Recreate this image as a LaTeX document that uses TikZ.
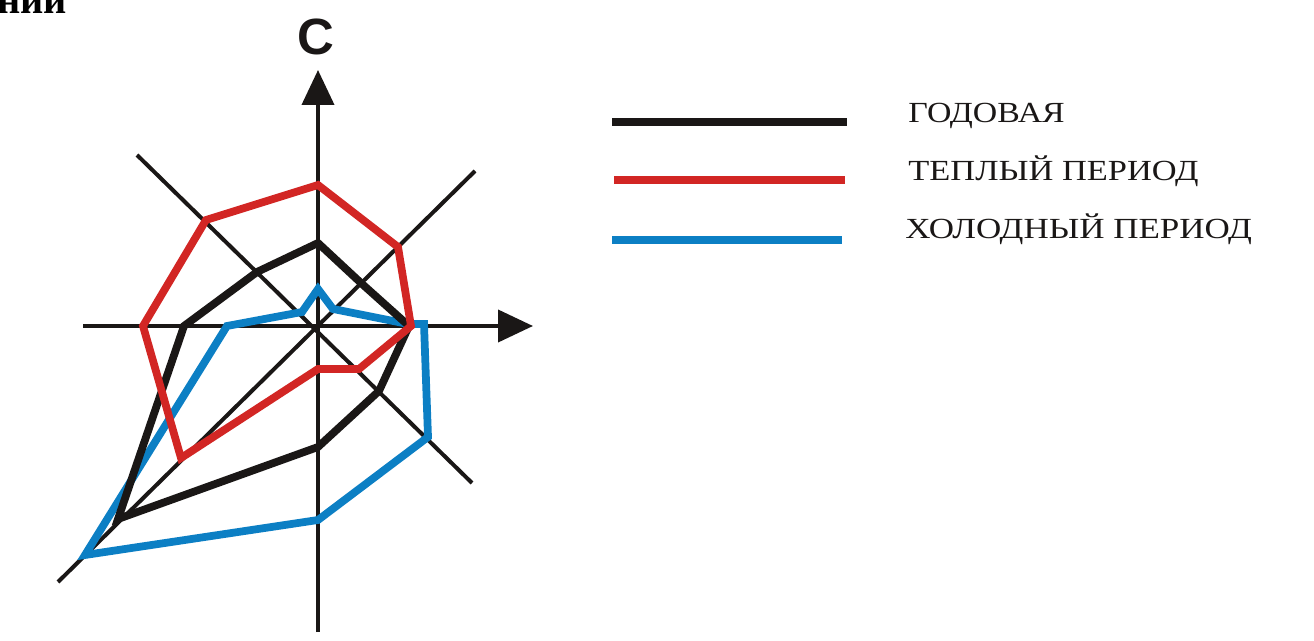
\documentclass[tikz,border=0pt]{standalone}
\usepackage{fontspec}
\setmainfont{Liberation Serif}
\newfontfamily\labelsans{Liberation Sans}
\usetikzlibrary{arrows.meta}
\definecolor{cblack}{RGB}{26,23,22}
\definecolor{cred}{RGB}{210,38,36}
\definecolor{cblue}{RGB}{12,127,196}
\begin{document}
\begin{tikzpicture}[x=0.02cm,y=-0.02cm,
  axisline/.style={line width=0.08cm, draw=cblack},
  axisarrow/.style={axisline, -{Triangle[length=0.7cm,width=0.64cm]}},
  series/.style={line width=0.155cm},
  legtext/.style={anchor=base west, inner sep=0pt, text=cblack, font=\fontsize{16.6}{18}\selectfont}]
\useasboundingbox (0,0) rectangle (1314,641);
\clip (0,0) rectangle (1314,641);

% cut-off heading fragment
\node[anchor=base west, inner sep=0pt, font=\fontsize{23}{25}\selectfont\bfseries] (head) at (-3,14) {нии};

% axes
\coordinate (O) at (318,326);
\coordinate (vb) at (318,632);
\coordinate (vt) at (318,70);
\coordinate (hl) at (83,326);
\coordinate (hr) at (533,326);
\coordinate (nw) at (137,155);
\coordinate (se) at (472,483);
\coordinate (sw) at (58,582);
\coordinate (ne) at (475,171);
\draw[axisline] (nw) -- (se);
\draw[axisline] (sw) -- (ne);
\draw[axisarrow] (vb) -- (vt);
\draw[axisarrow] (hl) -- (hr);
\node[anchor=base, inner sep=0pt, font=\labelsans\bfseries\fontsize{29}{30}\selectfont, text=cblack] (north) at (316,55) {С};

% blue: cold period
\coordinate (bN) at (318,289);
\coordinate (bNE) at (333,309);
\coordinate (bE1) at (408,324);
\coordinate (bE) at (424,324);
\coordinate (bSE) at (428,437);
\coordinate (bS) at (318,520);
\coordinate (bSW) at (85,555);
\coordinate (bW) at (227,326);
\coordinate (bNW) at (302,312);
\draw[series, cblue] (bN) -- (bNE) -- (bE1) -- (bE) -- (bSE) -- (bS) -- (bSW) -- (bW) -- (bNW) -- cycle;

% black: annual
\coordinate (kN) at (318,243);
\coordinate (kNE) at (361,283);
\coordinate (kE) at (409,326);
\coordinate (kSE) at (379,391);
\coordinate (kS) at (318,447);
\coordinate (kSW) at (118,519);
\coordinate (kW) at (184,326);
\coordinate (kNW) at (257,272);
\draw[series, cblack] (kN) -- (kNE) -- (kE) -- (kSE) -- (kS) -- (kSW) -- (kW) -- (kNW) -- cycle;

% red: warm period
\coordinate (rN) at (318,185);
\coordinate (rNE) at (398,247);
\coordinate (rE) at (411,326);
\coordinate (rSE) at (359,369);
\coordinate (rS) at (318,369);
\coordinate (rSW) at (181,458);
\coordinate (rW) at (143,326);
\coordinate (rNW) at (206,220);
\draw[series, cred] (rN) -- (rNE) -- (rE) -- (rSE) -- (rS) -- (rSW) -- (rW) -- (rNW) -- cycle;

% legend
\coordinate (l1a) at (612,122); \coordinate (l1b) at (847,122);
\coordinate (l2a) at (614,180); \coordinate (l2b) at (845,180);
\coordinate (l3a) at (612,240); \coordinate (l3b) at (842,240);
\draw[series, cblack] (l1a) -- (l1b);
\draw[series, cred] (l2a) -- (l2b);
\draw[series, cblue] (l3a) -- (l3b);
\node[legtext] (t1) at (908,123) {\scalebox{1.16}[1]{ГОДОВАЯ}};
\node[legtext] (t2) at (908,181) {\scalebox{1.18}[1]{ТЕПЛЫЙ ПЕРИОД}};
\node[legtext] (t3) at (905,239) {\scalebox{1.2}[1]{ХОЛОДНЫЙ ПЕРИОД}};
\end{tikzpicture}
\end{document}
